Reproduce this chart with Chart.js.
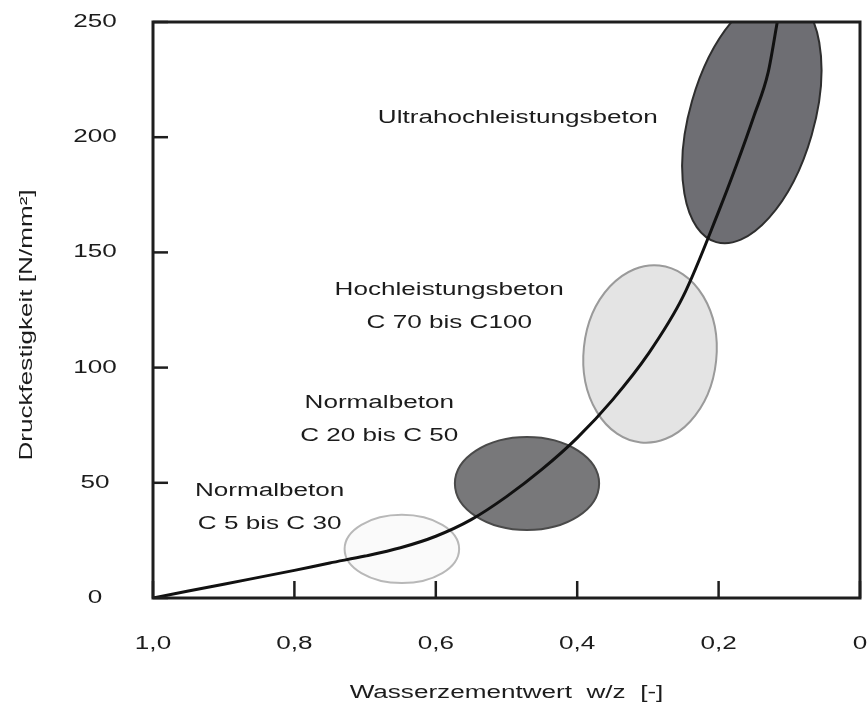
<!DOCTYPE html>
<html>
<head>
<meta charset="utf-8">
<script src="https://cdn.jsdelivr.net/npm/chart.js@4"></script>
<style>
  html,body{margin:0;padding:0;background:#fff;}
  #wrap{width:867px;height:711px;position:relative;}
</style>
</head>
<body>
<div id="wrap"><canvas id="c"></canvas></div>
<script>
// curve: Druckfestigkeit over w/z
const wz = [1.0, 0.9, 0.8, 0.75, 0.7, 0.65, 0.6, 0.55, 0.5, 0.45, 0.4, 0.35, 0.3, 0.25, 0.2, 0.175, 0.15, 0.13, 0.117];
const strength = [0, 6, 12, 15.2, 18.2, 21.8, 26.8, 34, 44, 55.8, 69.5, 86, 105.7, 131, 167.7, 187.7, 209.2, 228, 250];

// concrete classes (ellipses), centre + half extents in data units
const classLines = [['Normalbeton', 'C 5 bis C 30'], ['Normalbeton', 'C 20 bis C 50'], ['Hochleistungsbeton', 'C 70 bis C100'], ['Ultrahochleistungsbeton']];
const classWz = [0.648, 0.471, 0.297, 0.153];
const classFc = [21.3, 49.7, 105.9, 208.3];
const classWzHalf = [0.081, 0.102, 0.094, 0.088];
const classFcHalf = [14.8, 20.2, 38.6, 56];
const classTilt = [0, 0, 6, 16];

const xTicks = [1.0, 0.8, 0.6, 0.4, 0.2, 0];
const xTickText = ['1,0', '0,8', '0,6', '0,4', '0,2', '0'];
const yTicks = [0, 50, 100, 150, 200, 250];
const xTitle = 'Wasserzementwert  w/z  [-]';
const yTitle = 'Druckfestigkeit [N/mm²]';

const FONT = '18px "Liberation Sans", Arial, sans-serif';
const STRETCH = 1.45;
const INK = '#1c1c1c';

function stretchText(ctx, txt, x, y, rot){
  ctx.save(); ctx.translate(x, y); if (rot) ctx.rotate(rot);
  ctx.scale(STRETCH, 1); ctx.font = FONT; ctx.fillStyle = INK;
  ctx.textAlign = 'center'; ctx.textBaseline = 'middle';
  ctx.fillText(txt, 0, 0); ctx.restore();
}

const ellipseStyle = [
  {fill: 'rgba(250,250,250,0.9)', stroke: '#b8b8b8', w: 2},
  {fill: '#78787a', stroke: '#4a4a4a', w: 2},
  {fill: '#e4e4e4', stroke: '#9a9a9a', w: 2},
  {fill: '#6e6e73', stroke: '#2e2e2e', w: 2}
];

const ellipses = {
  id: 'ellipses',
  beforeDatasetsDraw(chart){
    const {ctx, chartArea: a} = chart; const xs = chart.scales.x, ys = chart.scales.y;
    ctx.save(); ctx.beginPath(); ctx.rect(a.left, a.top, a.right - a.left, a.bottom - a.top); ctx.clip();
    classWz.forEach((cx, i) => {
      const px = xs.getPixelForValue(cx), py = ys.getPixelForValue(classFc[i]);
      const rx = Math.abs(xs.getPixelForValue(cx + classWzHalf[i]) - px);
      const ry = Math.abs(ys.getPixelForValue(classFc[i] + classFcHalf[i]) - py);
      const st = ellipseStyle[i];
      ctx.beginPath(); ctx.ellipse(px, py, rx, ry, classTilt[i] * Math.PI / 180, 0, Math.PI * 2);
      ctx.fillStyle = st.fill; ctx.fill();
      ctx.lineWidth = st.w; ctx.strokeStyle = st.stroke; ctx.stroke();
    });
    ctx.restore();
  }
};

// frame, inner ticks, all text
const frame = {
  id: 'frame',
  afterDraw(chart){
    const {ctx, chartArea: a} = chart; const xs = chart.scales.x, ys = chart.scales.y;
    ctx.save();
    ctx.strokeStyle = '#1e1e1e'; ctx.lineWidth = 3;
    ctx.strokeRect(a.left, a.top, a.right - a.left, a.bottom - a.top);
    ctx.lineWidth = 2.5;
    yTicks.forEach(v => { const y = ys.getPixelForValue(v); ctx.beginPath(); ctx.moveTo(a.left, y); ctx.lineTo(a.left + 15, y); ctx.stroke(); });
    xTicks.forEach(v => { const x = xs.getPixelForValue(v); ctx.beginPath(); ctx.moveTo(x, a.bottom); ctx.lineTo(x, a.bottom - 17); ctx.stroke(); });
    yTicks.forEach(v => stretchText(ctx, String(v), 95, ys.getPixelForValue(v)));
    xTicks.forEach((v, i) => stretchText(ctx, xTickText[i], xs.getPixelForValue(v), 644));
    stretchText(ctx, xTitle, (a.left + a.right) / 2, 693);
    // rotated title: stretch along its length
    ctx.save(); ctx.translate(27, 325); ctx.rotate(-Math.PI / 2); ctx.scale(STRETCH, 1);
    ctx.font = FONT; ctx.fillStyle = INK; ctx.textAlign = 'center'; ctx.textBaseline = 'middle';
    ctx.fillText(yTitle, 0, 0); ctx.restore();
    // class labels
    const at = [[0.835, 46.4], [0.680, 84.6], [0.581, 133.7], [0.484, 208.3]];
    classLines.forEach((lines, i) => {
      const x = xs.getPixelForValue(at[i][0]), y = ys.getPixelForValue(at[i][1]);
      lines.forEach((t, k) => stretchText(ctx, t, x, y + k * 33));
    });
    ctx.restore();
  }
};

new Chart(document.getElementById('c'), {
  type: 'scatter',
  data: {
    datasets: [{
      data: wz.map((x, i) => ({x, y: strength[i]})),
      showLine: true, pointRadius: 0, borderColor: '#111', borderWidth: 3,
      cubicInterpolationMode: 'monotone'
    }]
  },
  options: {
    responsive: true, maintainAspectRatio: false, animation: false,
    layout: {padding: {left: 153, right: 7, top: 22, bottom: 113}},
    scales: {
      x: {type: 'linear', reverse: true, min: 0, max: 1, display: false},
      y: {min: 0, max: 250, display: false}
    },
    plugins: {legend: {display: false}, tooltip: {enabled: false}}
  },
  plugins: [ellipses, frame]
});
</script>
</body>
</html>
